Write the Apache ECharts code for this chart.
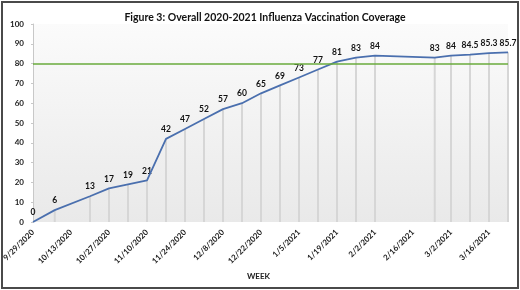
<!DOCTYPE html>
<html>
<head>
<meta charset="utf-8">
</head>
<body style="margin: 0; background: #fff">
<div id="container" style="width: 520px; height: 290px"></div>
<script src="https://cdn.jsdelivr.net/npm/echarts@6/dist/echarts.min.js"></script>
<script>
// weekly coverage readings
var weeks = ['9/29/2020', '10/7/2020', '10/20/2020', '10/27/2020', '11/3/2020', '11/10/2020',
    '11/17/2020', '11/24/2020', '12/1/2020', '12/8/2020', '12/15/2020', '12/22/2020',
    '12/29/2020', '1/5/2021', '1/12/2021', '1/19/2021', '1/26/2021', '2/2/2021',
    '2/24/2021', '3/2/2021', '3/9/2021', '3/16/2021', '3/23/2021'];
var coverage = [0, 6, 13, 17, 19, 21, 42, 47, 52, 57, 60, 65, 69, 73, 77, 81, 83, 84,
    83, 84, 84.5, 85.3, 85.7];
var target = 80;
var yTicks = [0, 10, 20, 30, 40, 50, 60, 70, 80, 90, 100];

var DAY = 86400000;
function toDate(s) {
    var p = s.split('/');
    return Date.UTC(+p[2], +p[0] - 1, +p[1]);
}
var start = toDate(weeks[0]);
function fmt(d) {
    var t = new Date(start + d * DAY);
    return (t.getUTCMonth() + 1) + '/' + t.getUTCDate() + '/' + t.getUTCFullYear();
}
var points = weeks.map(function (w, i) {
    return [Math.round((toDate(w) - start) / DAY), coverage[i]];
});

var chart = echarts.init(document.getElementById('container'), null, {renderer: 'canvas'});
var font = 'Lato, "DejaVu Sans", sans-serif';

chart.setOption({
    animation: false,
    textStyle: {fontFamily: font},
    title: {
        text: 'Figure 3: Overall 2020-2021 Influenza Vaccination Coverage',
        left: 260, top: 7, textAlign: 'center',
        textStyle: {fontSize: 10.5, fontWeight: 'bold', color: '#111', fontFamily: font}
    },
    graphic: [{
        type: 'rect', silent: true,
        shape: {x: 2, y: 2, width: 516, height: 286},
        style: {fill: null, stroke: '#4a4a4a', lineWidth: 2}
    }],
    grid: {
        left: 33, right: 12, top: 24, bottom: 68,
        outerBoundsMode: 'none',
        show: true, borderWidth: 0,
        backgroundColor: new echarts.graphic.LinearGradient(0, 0, 0, 1, [
            {offset: 0, color: '#fbfbfb'},
            {offset: 1, color: '#e9e9e9'}
        ])
    },
    xAxis: {
        type: 'value', min: 0, max: 175, interval: 14,
        name: 'WEEK', nameLocation: 'middle', nameGap: 50,
        nameTextStyle: {fontSize: 8, fontWeight: 'bold', color: '#222', padding: [0, 24, 0, 0]},
        axisLine: {show: false}, axisTick: {show: false}, splitLine: {show: false},
        axisLabel: {
            rotate: 45, margin: 9, fontSize: 8, fontWeight: 'bold', color: '#222',
            showMaxLabel: false,
            formatter: function (v) { return fmt(v); }
        }
    },
    yAxis: {
        type: 'value', min: 0, max: 100, interval: 10,
        name: 'PERCENTAGE', nameLocation: 'middle', nameGap: 22,
        nameTextStyle: {fontSize: 8, fontWeight: 'bold', color: '#222'},
        axisLine: {show: true, lineStyle: {color: '#c8c8c8'}},
        axisTick: {show: true, length: 2, lineStyle: {color: '#c8c8c8'}},
        splitLine: {show: false},
        axisLabel: {
            margin: 9, fontSize: 8, fontWeight: 'bold', color: '#222',
            formatter: function (v) { return yTicks.indexOf(v) >= 0 ? String(v) : ''; }
        }
    },
    series: [{
        type: 'bar',
        data: points,
        barWidth: 2,
        silent: true,
        itemStyle: {color: '#d6d6d6'},
        label: {
            show: true, position: 'top', distance: 5,
            fontSize: 8.5, fontWeight: 'bold', color: '#111',
            formatter: function (p) { return p.value[1]; }
        },
        z: 1
    }, {
        type: 'line',
        data: points,
        showSymbol: false,
        lineStyle: {color: '#4a6fae', width: 1.8},
        markLine: {
            silent: true, symbol: 'none', label: {show: false},
            lineStyle: {color: '#6aab3c', width: 1.5, type: 'solid'},
            data: [{yAxis: target}]
        },
        z: 3
    }]
});
</script>
</body>
</html>
